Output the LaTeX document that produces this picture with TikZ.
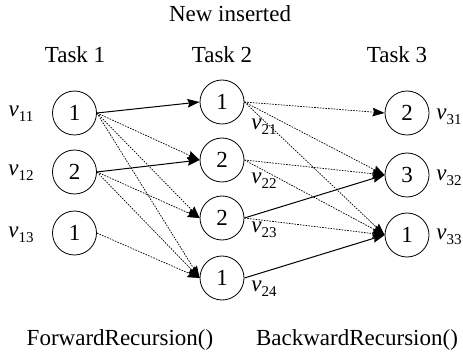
\documentclass[tikz,border=0pt]{standalone}
\usepackage{fontspec}
\setmainfont{Liberation Serif}
\usetikzlibrary{arrows.meta}
\newcommand{\vlab}[1]{\textit{v}\raisebox{-0.45ex}{\fontsize{15}{15}\selectfont #1}}
\begin{document}
\begin{tikzpicture}[x=1pt,y=-1pt,
  every node/.style={font=\fontsize{23}{24}\selectfont},
  vnode/.style={circle,draw,line width=0.8pt,minimum size=44pt,inner sep=0pt},
  vlabel/.style={inner sep=0pt},
  title/.style={anchor=base,inner sep=0pt},
  solidarr/.style={line width=1pt,-{Stealth[length=12pt,width=8.5pt,inset=1.5pt]}},
  dotarr/.style={line width=0.7pt,dash pattern=on 1.6pt off 1.2pt,-{Stealth[length=12pt,width=8.5pt,inset=1.5pt]}}]
\useasboundingbox (0,0) rectangle (463,358);
\node[title] (ni) at (230,22) {New inserted};
\node[title] (t1) at (75,63) {Task 1};
\node[title] (t2) at (222,63) {Task 2};
\node[title] (t3) at (397,63) {Task 3};
\node[title] (fr) at (120,345) {ForwardRecursion()};
\node[title] (br) at (357,345) {BackwardRecursion()};

\node[vnode] (n11) at (74.5,113) {1};
\node[vnode] (n12) at (74.5,172) {2};
\node[vnode] (n13) at (74.5,233) {1};
\node[vnode] (n21) at (222,102) {1};
\node[vnode] (n22) at (222,160) {2};
\node[vnode] (n23) at (222,218) {2};
\node[vnode] (n24) at (222,278) {1};
\node[vnode] (n31) at (407,113) {2};
\node[vnode] (n32) at (407,175) {3};
\node[vnode] (n33) at (407,235) {1};

\node[vlabel] (l11) at (21,114) {\vlab{11}};
\node[vlabel] (l12) at (21,173) {\vlab{12}};
\node[vlabel] (l13) at (21,235) {\vlab{13}};
\node[vlabel] (l21) at (264,127) {\vlab{21}};
\node[vlabel] (l22) at (264,181) {\vlab{22}};
\node[vlabel] (l23) at (264,230) {\vlab{23}};
\node[vlabel] (l24) at (264,289) {\vlab{24}};
\node[vlabel] (l31) at (449,117) {\vlab{31}};
\node[vlabel] (l32) at (449,178) {\vlab{32}};
\node[vlabel] (l33) at (449,237) {\vlab{33}};

\draw[solidarr] (n11.east) -- (n21.west);
\draw[solidarr] (n12.east) -- (n22.west);
\draw[solidarr] (n23.east) -- (n32.west);
\draw[solidarr] (n24.east) -- (n33.west);

\draw[dotarr] (n11.east) -- (n22.west);
\draw[dotarr] (n11.east) -- (n23.west);
\draw[dotarr] (n11.east) -- (n24.west);
\draw[dotarr] (n12.east) -- (n23.west);
\draw[dotarr] (n12.east) -- (n24.west);
\draw[dotarr] (n13.east) -- (n24.west);
\draw[dotarr] (n21.east) -- (n31.west);
\draw[dotarr] (n21.east) -- (n32.west);
\draw[dotarr] (n21.east) -- (n33.west);
\draw[dotarr] (n22.east) -- (n32.west);
\draw[dotarr] (n22.east) -- (n33.west);
\draw[dotarr] (n23.east) -- (n33.west);
\end{tikzpicture}
\end{document}
